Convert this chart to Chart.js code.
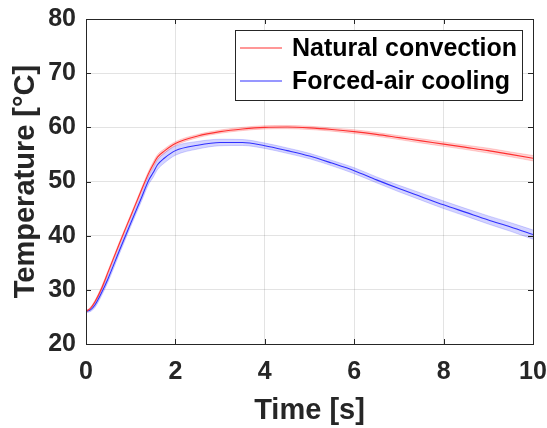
<!DOCTYPE html>
<html>
<head>
<meta charset="utf-8">
<script src="https://cdn.jsdelivr.net/npm/chart.js@4/dist/chart.umd.min.js"></script>
<style>
    html, body { margin: 0; padding: 0; background: #fff; }
    #wrap { width: 547px; height: 428px; }
</style>
</head>
<body>
<div id="wrap"><canvas id="tempChart" width="547" height="428"></canvas></div>
<script>
// Measured temperature (mean and spread) for both cooling setups
const timeS = [0, 0.1, 0.2, 0.35, 0.5, 0.75, 1, 1.25, 1.4, 1.5, 1.6, 1.75, 2, 2.5, 3, 3.5, 4, 4.5, 5, 5.5, 6, 6.5, 7, 7.5, 8, 8.5, 9, 9.5, 10];
const naturalMean = [26.0, 26.6, 27.8, 30.3, 33.4, 38.6, 43.6, 48.6, 51.5, 53.1, 54.5, 55.6, 57.0, 58.4, 59.2, 59.7, 60.0, 60.05, 59.9, 59.6, 59.2, 58.7, 58.1, 57.5, 56.9, 56.3, 55.7, 55.0, 54.3];
const naturalSpread = [0.15, 0.2, 0.25, 0.3, 0.3, 0.3, 0.3, 0.35, 0.4, 0.45, 0.45, 0.4, 0.35, 0.3, 0.3, 0.3, 0.3, 0.3, 0.3, 0.3, 0.35, 0.35, 0.35, 0.4, 0.4, 0.4, 0.45, 0.45, 0.5];
const forcedMean = [26.0, 26.3, 27.2, 29.5, 32.2, 37.3, 42.3, 47.2, 50.2, 51.6, 53.1, 54.3, 55.7, 56.7, 57.2, 57.2, 56.6, 55.7, 54.7, 53.4, 52.0, 50.3, 48.7, 47.2, 45.7, 44.3, 42.9, 41.6, 40.2];
const forcedSpread = [0.2, 0.3, 0.45, 0.55, 0.6, 0.6, 0.6, 0.65, 0.75, 0.85, 0.9, 0.9, 0.85, 0.7, 0.6, 0.55, 0.5, 0.5, 0.5, 0.5, 0.55, 0.55, 0.6, 0.65, 0.7, 0.7, 0.75, 0.8, 0.85];

const xTicks = [0, 2, 4, 6, 8, 10];
const yTicks = [20, 30, 40, 50, 60, 70, 80];
const seriesNames = ['Natural convection', 'Forced-air cooling'];

const colors = {
    red: '#ff3030',
    redBand: 'rgba(255, 40, 40, 0.2)',
    blue: '#3030ff',
    blueBand: 'rgba(40, 40, 255, 0.2)',
    axis: '#262626',
    grid: 'rgba(38, 38, 38, 0.13)'
};
const FONT = '"Liberation Sans", Arial, sans-serif';

function points(values) {
    return timeS.map((t, i) => ({ x: t, y: values[i] }));
}
function shifted(values, spread, sign) {
    return timeS.map((t, i) => ({ x: t, y: values[i] + sign * spread[i] }));
}

// MATLAB-style box, inward ticks and legend drawn on top of the plot
const axesBox = {
    id: 'axesBox',
    afterDraw(chart) {
        const { ctx, chartArea: a, scales } = chart;
        const tick = 5;
        ctx.save();
        ctx.strokeStyle = colors.axis;
        ctx.lineWidth = 1;
        ctx.beginPath();
        xTicks.forEach(v => {
            const px = Math.round(scales.x.getPixelForValue(v)) + 0.5;
            ctx.moveTo(px, a.bottom); ctx.lineTo(px, a.bottom - tick);
            ctx.moveTo(px, a.top); ctx.lineTo(px, a.top + tick);
        });
        yTicks.forEach(v => {
            const py = Math.round(scales.y.getPixelForValue(v)) + 0.5;
            ctx.moveTo(a.left, py); ctx.lineTo(a.left + tick, py);
            ctx.moveTo(a.right, py); ctx.lineTo(a.right - tick, py);
        });
        ctx.stroke();
        ctx.strokeRect(Math.round(a.left) + 0.5, Math.round(a.top) + 0.5,
            Math.round(a.right - a.left), Math.round(a.bottom - a.top));

        // legend
        const lx = 235.5, ly = 30.5, lw = 287, lh = 70;
        ctx.fillStyle = '#fff';
        ctx.fillRect(lx, ly, lw, lh);
        ctx.strokeStyle = colors.axis;
        ctx.strokeRect(lx, ly, lw, lh);
        const rows = [
            { name: seriesNames[0], color: colors.red, y: 48 },
            { name: seriesNames[1], color: colors.blue, y: 81 }
        ];
        ctx.font = 'bold 25px ' + FONT;
        ctx.textBaseline = 'middle';
        ctx.textAlign = 'left';
        rows.forEach(r => {
            ctx.strokeStyle = r.color;
            ctx.lineWidth = 1.2;
            ctx.beginPath();
            ctx.moveTo(240, r.y);
            ctx.lineTo(282, r.y);
            ctx.stroke();
            ctx.fillStyle = '#000';
            ctx.fillText(r.name, 292, r.y + 1);
        });
        ctx.restore();
    }
};

const lineBase = {
    pointRadius: 0,
    pointHoverRadius: 0,
    cubicInterpolationMode: 'monotone'
};

new Chart(document.getElementById('tempChart').getContext('2d'), {
    type: 'line',
    data: {
        datasets: [
            { ...lineBase, label: seriesNames[0], data: points(naturalMean), borderColor: colors.red, borderWidth: 1.1, fill: false },
            { ...lineBase, label: seriesNames[1], data: points(forcedMean), borderColor: colors.blue, borderWidth: 1.1, fill: false },
            { ...lineBase, label: 'nat-hi', data: shifted(naturalMean, naturalSpread, 1), borderColor: 'rgba(255,40,40,0.2)', borderWidth: 1, backgroundColor: colors.redBand, fill: '+1' },
            { ...lineBase, label: 'nat-lo', data: shifted(naturalMean, naturalSpread, -1), borderColor: 'rgba(255,40,40,0.2)', borderWidth: 1, fill: false },
            { ...lineBase, label: 'air-hi', data: shifted(forcedMean, forcedSpread, 1), borderColor: 'rgba(40,40,255,0.2)', borderWidth: 1, backgroundColor: colors.blueBand, fill: '+1' },
            { ...lineBase, label: 'air-lo', data: shifted(forcedMean, forcedSpread, -1), borderColor: 'rgba(40,40,255,0.2)', borderWidth: 1, fill: false }
        ]
    },
    options: {
        responsive: false,
        animation: false,
        events: [],
        layout: { padding: { left: 0, top: 19, right: 14, bottom: 0 } },
        plugins: {
            legend: { display: false },
            tooltip: { enabled: false }
        },
        scales: {
            x: {
                type: 'linear',
                min: 0,
                max: 10,
                afterBuildTicks: s => { s.ticks = xTicks.map(v => ({ value: v })); },
                afterFit: s => { s.height = 84; s.paddingRight = 0; s.paddingLeft = 0; },
                grid: { color: colors.grid, drawTicks: false },
                border: { color: colors.axis },
                ticks: { color: colors.axis, padding: 13, font: { family: FONT, size: 25, weight: 'bold' } },
                title: { display: true, text: 'Time [s]', color: colors.axis, padding: { top: 4, bottom: 0 }, font: { family: FONT, size: 29, weight: 'bold' } }
            },
            y: {
                min: 20,
                max: 80,
                afterBuildTicks: s => { s.ticks = yTicks.map(v => ({ value: v })); },
                afterFit: s => { s.width = 86; s.paddingTop = 0; s.paddingBottom = 0; },
                grid: { color: colors.grid, drawTicks: false },
                border: { color: colors.axis },
                ticks: { color: colors.axis, padding: 10, font: { family: FONT, size: 25, weight: 'bold' } },
                title: { display: true, text: 'Temperature [°C]', color: colors.axis, padding: { top: 9, bottom: 0 }, font: { family: FONT, size: 29, weight: 'bold' } }
            }
        }
    },
    plugins: [axesBox]
});
</script>
</body>
</html>
